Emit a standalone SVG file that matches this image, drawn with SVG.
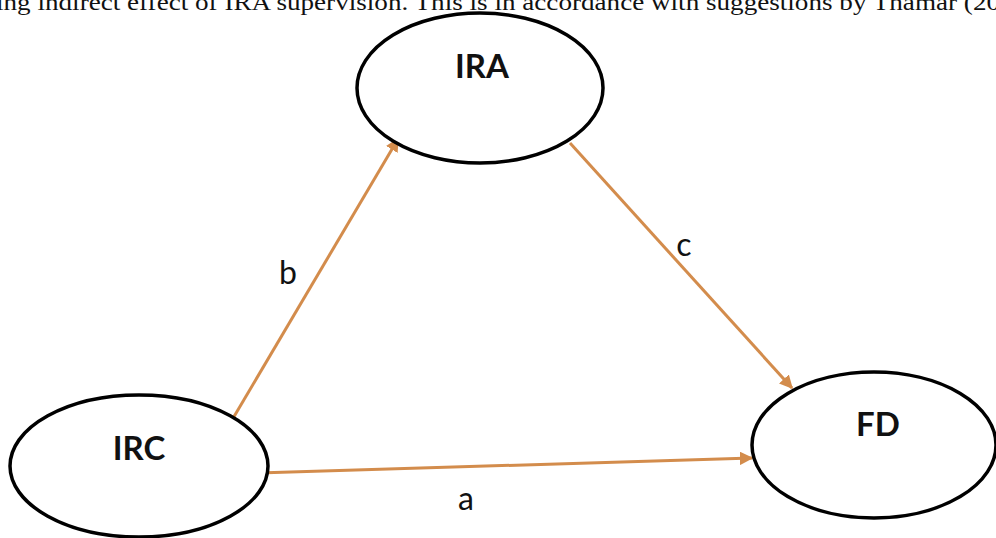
<svg xmlns="http://www.w3.org/2000/svg" width="996" height="538" viewBox="0 0 996 538">
<style>
.node{fill:#fff;stroke:#000;stroke-width:3.5}
.nt{font-family:Lato,"Open Sans",sans-serif;font-weight:bold;font-size:33px;fill:#111;text-anchor:middle}
.lbl{font-family:Lato,"Open Sans",sans-serif;font-size:32px;fill:#111;text-anchor:middle}
.edge{stroke:#D38C4C;stroke-width:3;fill:none;marker-end:url(#ah)}
.cap{font-family:"Liberation Serif",serif;font-size:24px;fill:#111}
</style>
<defs>
<marker id="ah" viewBox="0 0 10 10" refX="9" refY="5" markerWidth="4.5" markerHeight="4.5" orient="auto" markerUnits="strokeWidth">
<path d="M0,0 L10,5 L0,10 z" fill="#D38C4C"/>
</marker>
</defs>
<rect width="996" height="538" fill="#fff"/>
<text class="cap" x="-4" y="10" textLength="1004" lengthAdjust="spacingAndGlyphs">ing indirect effect of IRA supervision. This is in accordance with suggestions by Thamar (20</text>
<g id="edges">
<line class="edge" x1="232" y1="420" x2="398" y2="139"/>
<line class="edge" x1="570" y1="143" x2="792" y2="388"/>
<line class="edge" x1="258" y1="473" x2="752" y2="458"/>
</g>
<g id="IRA">
<ellipse class="node" cx="480" cy="88" rx="123" ry="75"/>
<text class="nt" x="482" y="78">IRA</text>
</g>
<g id="IRC">
<ellipse class="node" cx="139" cy="466" rx="129" ry="71"/>
<text class="nt" x="139" y="460">IRC</text>
</g>
<g id="FD">
<ellipse class="node" cx="874" cy="445" rx="122" ry="73"/>
<text class="nt" x="878" y="436">FD</text>
</g>
<text class="lbl" x="288" y="284">b</text>
<text class="lbl" x="684" y="256">c</text>
<text class="lbl" x="466" y="510">a</text>
</svg>
